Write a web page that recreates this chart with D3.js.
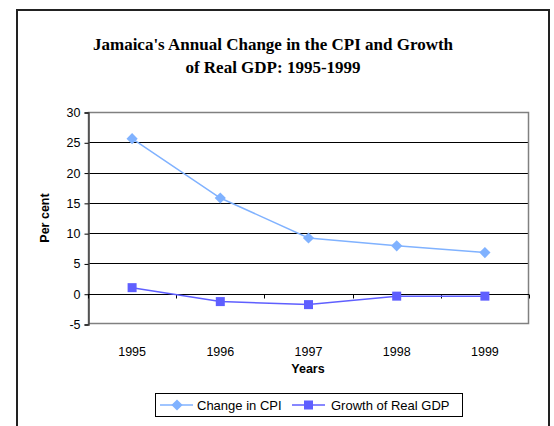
<!DOCTYPE html>
<html>
<head>
<meta charset="utf-8">
<script src="https://cdn.jsdelivr.net/npm/d3@7"></script>
<style>
  body { margin: 0; background: #fff; }
  text { font-family: Arial, "Liberation Sans", sans-serif; }
</style>
</head>
<body>
<svg id="chart" width="554" height="426"></svg>
<script>
"use strict";

const years = ['1995', '1996', '1997', '1998', '1999'];
const cpi = [25.6, 15.8, 9.2, 7.9, 6.8];
const gdp = [1.0, -1.3, -1.8, -0.4, -0.4];
const yTicks = [-5, 0, 5, 10, 15, 20, 25, 30];
const seriesNames = ['Change in CPI', 'Growth of Real GDP'];

const svg = d3.select('#chart');
const cpiColor = '#80b2ff', gdpColor = '#5f5fff';
const sans = 'Arial, "Liberation Sans", sans-serif';

// outer frame
svg.append('rect').attr('x', 17).attr('y', 10).attr('width', 532).attr('height', 430)
  .attr('fill', '#fff').attr('stroke', '#222').attr('stroke-width', 2);

// title
let title = svg.append('text').attr('text-anchor', 'middle')
  .style('font-family', '"Liberation Serif", "Times New Roman", serif')
  .style('font-weight', 'bold').style('font-size', '17px').attr('fill', '#000');
title.append('tspan').attr('x', 273).attr('y', 50).text("Jamaica's Annual Change in the CPI and Growth");
title.append('tspan').attr('x', 273).attr('y', 73).text('of Real GDP: 1995-1999');

let x = d3.scaleBand().domain(years).range([88, 529]);
let y = d3.scaleLinear().domain([-5, 30]).range([324, 112]);

// grid
svg.append('g').selectAll('line').data(yTicks.filter(d => d > -5 && d < 30)).join('line')
  .attr('x1', 88).attr('x2', 529)
  .attr('y1', d => Math.round(y(d)) + 0.5).attr('y2', d => Math.round(y(d)) + 0.5)
  .attr('stroke', '#000').attr('stroke-width', 1);

// plot border
svg.append('rect').attr('x', 88.5).attr('y', 112.5).attr('width', 440).attr('height', 211)
  .attr('fill', 'none').attr('stroke', '#808080').attr('stroke-width', 1.5);

// y axis
let yAxis = svg.append('g').attr('transform', 'translate(88.5,0.5)')
  .call(d3.axisLeft(y).tickValues(yTicks).tickFormat(d => String(d)).tickSize(4).tickPadding(4));
yAxis.selectAll('text').style('font-size', '12.5px').attr('fill', '#000').style('font-family', sans);
yAxis.selectAll('line').attr('stroke', '#000');
yAxis.select('.domain').attr('stroke', '#444').attr('stroke-width', 1.5);

// x axis at zero, ticks at band edges
let xAxisY = Math.round(y(0)) + 0.5;
svg.append('line').attr('x1', 88).attr('x2', 529).attr('y1', xAxisY).attr('y2', xAxisY)
  .attr('stroke', '#000');
svg.append('g').selectAll('line').data(years.concat(['end'])).join('line')
  .attr('x1', (d, i) => Math.round(88 + i * x.bandwidth()) + 0.5)
  .attr('x2', (d, i) => Math.round(88 + i * x.bandwidth()) + 0.5)
  .attr('y1', xAxisY).attr('y2', xAxisY + 4).attr('stroke', '#000');
svg.append('g').selectAll('text').data(years).join('text')
  .attr('x', d => x(d) + x.bandwidth() / 2).attr('y', 356)
  .attr('text-anchor', 'middle').style('font-size', '12.5px').text(d => d);

// axis titles
svg.append('text').attr('x', 308).attr('y', 373).attr('text-anchor', 'middle')
  .style('font-size', '12.5px').style('font-weight', 'bold').text('Years');
svg.append('text').attr('transform', 'translate(49,218) rotate(-90)').attr('text-anchor', 'middle')
  .style('font-size', '12.5px').style('font-weight', 'bold').text('Per cent');

// lines
let line = d3.line().x((d, i) => x(years[i]) + x.bandwidth() / 2).y(d => y(d));
svg.append('path').datum(cpi).attr('d', line).attr('fill', 'none')
  .attr('stroke', cpiColor).attr('stroke-width', 1.5);
svg.append('path').datum(gdp).attr('d', line).attr('fill', 'none')
  .attr('stroke', gdpColor).attr('stroke-width', 1.5);

let diamond = d3.symbol().type(d3.symbolDiamond2).size(80);
svg.append('g').selectAll('path').data(cpi).join('path')
  .attr('transform', (d, i) => `translate(${x(years[i]) + x.bandwidth() / 2},${y(d)})`)
  .attr('d', diamond).attr('fill', cpiColor);
svg.append('g').selectAll('rect').data(gdp).join('rect')
  .attr('x', (d, i) => x(years[i]) + x.bandwidth() / 2 - 4.5).attr('y', d => y(d) - 4.5)
  .attr('width', 9).attr('height', 9).attr('fill', gdpColor);

// legend
let lg = svg.append('g');
lg.append('rect').attr('x', 155.5).attr('y', 393.5).attr('width', 307).attr('height', 23)
  .attr('fill', '#fff').attr('stroke', '#000');
lg.append('line').attr('x1', 160).attr('x2', 193).attr('y1', 405).attr('y2', 405)
  .attr('stroke', cpiColor).attr('stroke-width', 1.5);
lg.append('path').attr('transform', 'translate(177,405)').attr('d', diamond).attr('fill', cpiColor);
lg.append('text').attr('x', 197).attr('y', 409.5).style('font-size', '13px').text(seriesNames[0]);
lg.append('line').attr('x1', 292).attr('x2', 325).attr('y1', 405).attr('y2', 405)
  .attr('stroke', gdpColor).attr('stroke-width', 1.5);
lg.append('rect').attr('x', 304).attr('y', 400.5).attr('width', 9).attr('height', 9).attr('fill', gdpColor);
lg.append('text').attr('x', 331).attr('y', 409.5).style('font-size', '13px').text(seriesNames[1]);
</script>
</body>
</html>
